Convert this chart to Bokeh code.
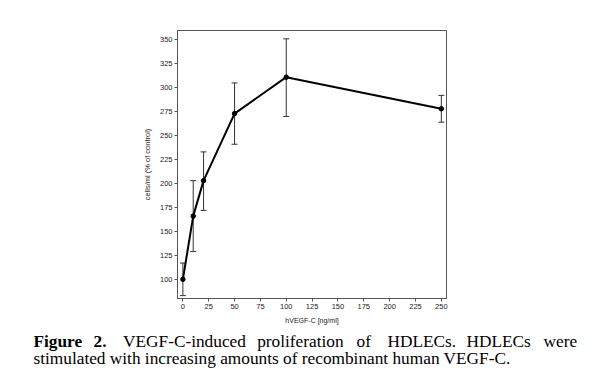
from bokeh.plotting import figure
from bokeh.models import ColumnDataSource, Whisker, TeeHead, Range1d, FixedTicker
from bokeh.layouts import column
from bokeh.core.properties import value
from bokeh.embed import file_html
from bokeh.resources import INLINE

# Data
dose = [0, 10, 20, 50, 100, 250]
cells = [100, 166, 203, 273, 311, 278]
err_upper = [117, 203, 233, 305, 351, 292]
err_lower = [83, 129, 172, 241, 270, 264]
x_ticks = [0, 25, 50, 75, 100, 125, 150, 175, 200, 225, 250]
y_ticks = [100, 125, 150, 175, 200, 225, 250, 275, 300, 325, 350]
caption_words = ["Figure", "2.", "VEGF-C-induced", "proliferation", "of", "HDLECs.", "HDLECs", "were"]
caption_styles = ["bold", "bold", "normal", "normal", "normal", "normal", "normal", "normal"]
caption_line2 = "stimulated with increasing amounts of recombinant human VEGF-C."

src = ColumnDataSource(dict(x=dose, y=cells, up=err_upper, lo=err_lower))

p = figure(width=592, height=326, output_backend="svg", toolbar_location=None,
           x_range=Range1d(-5.2, 255), y_range=Range1d(80, 359.7),
           min_border_left=177, min_border_right=146, min_border_top=30, min_border_bottom=28)
p.frame_align = False
p.xgrid.visible = False
p.ygrid.visible = False
p.outline_line_color = "#555555"
p.outline_line_width = 1

w = Whisker(base="x", upper="up", lower="lo", source=src, dimension="height",
            line_color="#333333", line_width=1,
            upper_head=TeeHead(size=6, line_color="#333333", line_width=1),
            lower_head=TeeHead(size=6, line_color="#333333", line_width=1))
p.add_layout(w)
p.line("x", "y", source=src, line_color="black", line_width=2)
p.scatter("x", "y", source=src, size=4.5, fill_color="black", line_color="black")

for ax in (p.xaxis[0], p.yaxis[0]):
    ax.axis_line_color = "#555555"
    ax.major_tick_line_color = "#555555"
    ax.minor_tick_line_color = None
    ax.major_tick_out = 3
    ax.major_tick_in = 0
    ax.major_label_text_font = "Liberation Sans"
    ax.major_label_text_font_size = "7.5px"
    ax.major_label_text_color = "#222222"
    ax.axis_label_text_font = "Liberation Sans"
    ax.axis_label_text_font_style = "normal"
    ax.axis_label_text_color = "#222222"
    ax.major_label_standoff = 2

p.xaxis[0].ticker = FixedTicker(ticks=x_ticks)
p.yaxis[0].ticker = FixedTicker(ticks=y_ticks)
p.xaxis[0].axis_label = "hVEGF-C [ng/ml]"
p.yaxis[0].axis_label = "cells/ml (% of control)"
p.xaxis[0].axis_label_text_font_size = "7px"
p.yaxis[0].axis_label_text_font_size = "7.5px"
p.xaxis[0].axis_label_standoff = 5
p.yaxis[0].axis_label_standoff = 5

# Caption figure: coordinates are pixels, y pointing down
cap = figure(width=592, height=50, output_backend="svg", toolbar_location=None,
             x_range=Range1d(0, 592), y_range=Range1d(50, 0),
             x_axis_location=None, y_axis_location=None, min_border=0)
cap.frame_align = False
cap.xgrid.visible = False
cap.ygrid.visible = False
cap.outline_line_color = None

xs1 = [33, 93, 122.5, 256.7, 356, 387, 466, 543]
cap_src = ColumnDataSource(dict(x=xs1, y=[14.7] * len(xs1), t=caption_words, s=caption_styles))
cap.text("x", "y", text="t", source=cap_src, text_font=value("Liberation Serif"),
         text_font_size="17.3px", text_font_style="s", text_baseline="alphabetic",
         text_align="left", text_color="black")
cap.text(x=[33], y=[32], text=[caption_line2],
         text_font=value("Liberation Serif"), text_font_size="17.3px",
         text_baseline="alphabetic", text_align="left", text_color="black")

layout = column(p, cap, spacing=0)
open("out.html", "w").write(file_html(layout, INLINE))
